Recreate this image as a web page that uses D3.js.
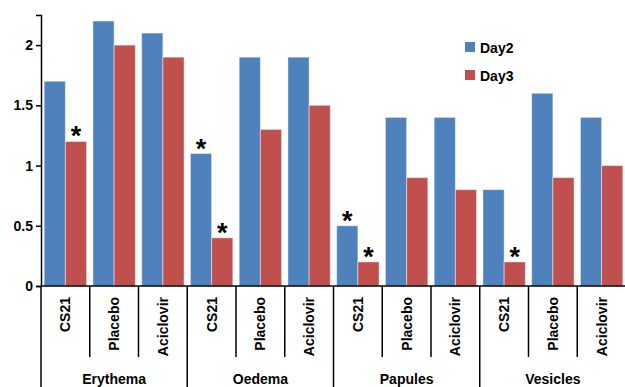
<!DOCTYPE html>
<html><head><meta charset="utf-8">
<script src="https://cdn.jsdelivr.net/npm/d3@7"></script>
<style>body{margin:0;background:#fff}svg{display:block}text{font-family:"Liberation Sans",Arial,sans-serif;font-weight:bold;fill:#000}</style>
</head><body><svg id="c" width="625" height="387"></svg>
<script>
const groups = ["Erythema","Oedema","Papules","Vesicles"];
const treatments = ["CS21","Placebo","Aciclovir"];
const series = ["Day2","Day3"];
const day2 = [1.7,2.2,2.1, 1.1,1.9,1.9, 0.5,1.4,1.4, 0.8,1.6,1.4];
const day3 = [1.2,2.0,1.9, 0.4,1.3,1.5, 0.2,0.9,0.8, 0.2,0.9,1.0];
const star2 = [0,0,0, 1,0,0, 1,0,0, 0,0,0];
const star3 = [1,0,0, 1,0,0, 1,0,0, 1,0,0];
const yTicks = [0,0.5,1,1.5,2];
const colors = ["#4F81BD","#C0504D"];

const svg = d3.select("#c");
const left = 41, right = 626, y0 = 286;
const cats = [];
groups.forEach(g => treatments.forEach(t => cats.push(g + "|" + t)));
const x = d3.scaleBand().domain(cats).range([left, right]).paddingInner(0).paddingOuter(0);
const xs = d3.scaleBand().domain(series).range([0, x.bandwidth()]).paddingInner(0).paddingOuter(0.15);
const y = d3.scaleLinear().domain([0, 2.25]).range([y0, 15]);

const data = cats.map((c, i) => ({c, vals: [day2[i], day3[i]], stars: [star2[i], star3[i]]}));
const g = svg.append("g");
data.forEach(d => {
  series.forEach((s, j) => {
    const v = d.vals[j];
    g.append("rect")
      .attr("x", x(d.c) + xs(s)).attr("width", xs.bandwidth())
      .attr("y", y(v)).attr("height", y(0) - y(v))
      .attr("fill", colors[j]).attr("stroke", "#fff").attr("stroke-opacity", 0.45).attr("stroke-width", 1);
    if (d.stars[j]) {
      g.append("text").attr("x", x(d.c) + xs(s) + xs.bandwidth() / 2).attr("y", y(v) + 4)
        .attr("text-anchor", "middle").style("font-size", "27px").text("*");
    }
  });
});

// y axis
const ya = svg.append("g").attr("transform", `translate(${left},0)`)
  .call(d3.axisLeft(y).tickValues(yTicks).tickSize(5).tickPadding(3).tickFormat(d3.format("")));
ya.select(".domain").attr("stroke", "#000").attr("stroke-width", 1.5);
ya.selectAll(".tick line").attr("stroke", "#000").attr("stroke-width", 1.5);
ya.selectAll(".tick text").style("font-size", "14px").attr("font-family", null);

// x axis line
svg.append("line").attr("x1", left).attr("x2", right).attr("y1", y0).attr("y2", y0).attr("stroke", "#000").attr("stroke-width", 1.5);

// category separators and labels
cats.forEach((c, i) => {
  const xx = x(c);
  const isGroup = i % 3 === 0;
  svg.append("line").attr("x1", xx).attr("x2", xx).attr("y1", y0).attr("y2", isGroup ? 387 : 357)
    .attr("stroke", "#000").attr("stroke-width", 1.5);
  const cx = xx + x.bandwidth() / 2;
  svg.append("text").attr("transform", `translate(${cx},297) rotate(-90)`)
    .attr("text-anchor", "end").attr("dy", "0.36em").style("font-size", "14px")
    .text(c.split("|")[1]);
});
groups.forEach((gname, k) => {
  const gx = x(gname + "|CS21");
  const w = x.bandwidth() * 3;
  svg.append("text").attr("x", gx + w / 2).attr("y", 384).attr("text-anchor", "middle")
    .style("font-size", "14px").text(gname);
});

// legend
series.forEach((s, j) => {
  const ly = 42 + j * 28;
  svg.append("rect").attr("x", 465).attr("y", ly).attr("width", 10).attr("height", 10).attr("fill", colors[j]);
  svg.append("text").attr("x", 480).attr("y", ly + 10.5).style("font-size", "14px").text(s);
});
</script></body></html>
